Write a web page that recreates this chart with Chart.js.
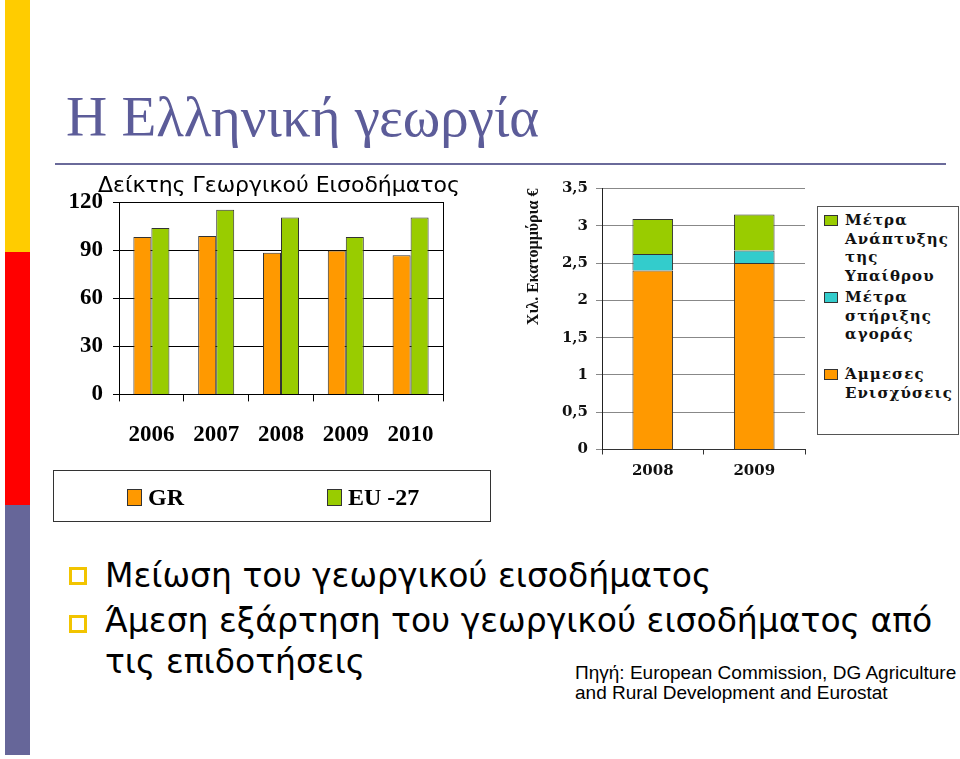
<!DOCTYPE html>
<html>
<head>
<meta charset="utf-8">
<script src="https://cdn.jsdelivr.net/npm/chart.js@4.4.0/dist/chart.umd.min.js"></script>
<style>
body { margin:0; width:960px; height:759px; background:#fff; position:relative; overflow:hidden; font-family:"Liberation Sans", sans-serif; }
.abs { position:absolute; }
.strip { left:5px; width:25px; }
#title { left:66px; top:84px; font-family:"Liberation Serif", serif; font-size:57px; line-height:65px; color:#5c5c99; white-space:nowrap; }
#rule { left:55px; top:163px; width:891px; height:2px; background:#6a6a9a; }
#indexChart { left:63px; top:168px; }
#subsidyChart { left:515px; top:170px; }
#indexLegend { left:53px; top:470px; width:436px; height:50px; border:1.5px solid #333; }
.legItem { position:absolute; top:14px; font-family:"Liberation Serif", serif; font-weight:bold; font-size:24px; line-height:24px; color:#000; white-space:nowrap; }
.legItem i { display:inline-block; width:13px; height:15px; border:1px solid #333; margin-right:6px; vertical-align:-1px; }
#subsidyLegend { left:817px; top:206px; width:140px; height:227px; border:1.5px solid #555; }
.subItem { position:absolute; left:6px; font-family:"DejaVu Serif", serif; font-weight:bold; font-size:15px; line-height:18.5px; letter-spacing:1.1px; color:#111; }
.subItem i { position:absolute; left:0; top:4px; width:12px; height:9px; border:1px solid #333; }
.subItem span { display:block; margin-left:21px; }
.bullet { left:69px; width:12px; height:12px; border:3px solid #f2c400; }
.btext { left:105px; font-family:"DejaVu Sans", sans-serif; font-size:33px; line-height:40px; color:#000; white-space:nowrap; }
.src { left:575px; font-family:"Liberation Sans", sans-serif; font-size:19px; line-height:20px; color:#000; white-space:nowrap; }
</style>
</head>
<body>
<div class="abs strip" style="top:0;height:252px;background:#ffcc00"></div>
<div class="abs strip" style="top:252px;height:253px;background:#ff0000"></div>
<div class="abs strip" style="top:505px;height:250px;background:#666699"></div>

<div id="title" class="abs">Η Ελληνική γεωργία</div>
<div id="rule" class="abs"></div>

<canvas id="indexChart" class="abs" width="432" height="311"></canvas>
<div id="indexLegend" class="abs"></div>

<canvas id="subsidyChart" class="abs" width="300" height="329"></canvas>
<div id="subsidyLegend" class="abs"></div>

<div class="abs bullet" style="top:567px"></div>
<div class="abs bullet" style="top:615px"></div>
<div class="abs btext" style="top:556px">Μείωση του γεωργικού εισοδήματος</div>
<div class="abs btext" style="top:601px">Άμεση εξάρτηση του γεωργικού εισοδήματος από</div>
<div class="abs btext" style="top:642px">τις επιδοτήσεις</div>
<div class="abs src" style="top:663px">Πηγή: European Commission, DG Agriculture</div>
<div class="abs src" style="top:683px">and Rural Development and Eurostat</div>

<script>
// Δείκτης γεωργικού εισοδήματος
const years = ['2006', '2007', '2008', '2009', '2010'];
const grValues = [98.4, 99.0, 88.5, 90.0, 87.0];
const euValues = [104.0, 115.4, 110.5, 98.4, 110.5];
const indexTickLabels = ['0', '30', '60', '90', '120'];
const indexSeries = ['GR', 'EU -27'];

// Ενισχύσεις σε χιλ. εκατ. €
const subsidyYears = ['2008', '2009'];
const directPayments = [2.40, 2.50];
const marketSupport = [0.22, 0.17];
const ruralDevelopment = [0.47, 0.48];
const subsidyTickLabels = ['0', '0,5', '1', '1,5', '2', '2,5', '3', '3,5'];
const subsidySeries = ['Άμμεσες Ενισχύσεις', 'Μέτρα στήριξης αγοράς', 'Μέτρα Ανάπτυξης της Υπαίθρου'];

const ORANGE = '#ff9900';
const GREEN = '#99cc00';
const CYAN = '#33cccc';

function renderIndexChart() {
    const ctx = document.getElementById('indexChart').getContext('2d');
    const colors = [ORANGE, GREEN];

    new Chart(ctx, {
        type: 'bar',
        data: {
            labels: years,
            datasets: [grValues, euValues].map((values, i) => ({
                label: indexSeries[i],
                data: values,
                backgroundColor: colors[i],
                borderColor: '#333',
                borderWidth: 1,
                categoryPercentage: 0.556,
                barPercentage: 1
            }))
        },
        options: {
            responsive: false,
            animation: false,
            layout: { padding: { left: 0, right: 0, top: 0, bottom: 10 } },
            plugins: {
                legend: { display: false },
                tooltip: { enabled: false },
                title: {
                    display: true,
                    text: 'Δείκτης Γεωργικού Εισοδήματος',
                    color: '#000',
                    font: { family: 'DejaVu Sans', size: 22, weight: 'normal' },
                    padding: { top: 5, bottom: 3 }
                }
            },
            scales: {
                x: {
                    grid: { drawOnChartArea: false, tickLength: 7, color: '#000' },
                    border: { color: '#000' },
                    ticks: { color: '#000', padding: 20, font: { family: 'Liberation Serif', size: 23, weight: 'bold' } }
                },
                y: {
                    min: 0,
                    max: 120,
                    grid: { color: '#000', tickLength: 6 },
                    border: { color: '#000' },
                    ticks: {
                        stepSize: 30,
                        color: '#000',
                        padding: 10,
                        font: { family: 'Liberation Serif', size: 23, weight: 'bold' },
                        callback: (v, i) => indexTickLabels[i]
                    },
                    afterFit: s => { s.width = 56; }
                },
                // δεξί περίγραμμα του γραφήματος
                y2: {
                    position: 'right',
                    grid: { display: false },
                    ticks: { display: false },
                    border: { display: true, color: '#000' },
                    afterFit: s => { s.width = 52; }
                }
            }
        }
    });

    const legend = document.getElementById('indexLegend');
    const spots = [73, 273];
    indexSeries.forEach((name, i) => {
        const item = document.createElement('div');
        item.className = 'legItem';
        item.style.left = spots[i] + 'px';
        item.innerHTML = `<i style="background:${colors[i]}"></i>${name}`;
        legend.appendChild(item);
    });
}

function renderSubsidyChart() {
    const ctx = document.getElementById('subsidyChart').getContext('2d');
    const colors = [ORANGE, CYAN, GREEN];

    new Chart(ctx, {
        type: 'bar',
        data: {
            labels: subsidyYears,
            datasets: [directPayments, marketSupport, ruralDevelopment].map((values, i) => ({
                label: subsidySeries[i],
                data: values,
                backgroundColor: colors[i],
                borderColor: '#333',
                borderWidth: 1,
                categoryPercentage: 0.4,
                barPercentage: 1
            }))
        },
        options: {
            responsive: false,
            animation: false,
            layout: { padding: { left: 0, right: 10, top: 18.5, bottom: 10.5 } },
            plugins: {
                legend: { display: false },
                tooltip: { enabled: false }
            },
            scales: {
                x: {
                    stacked: true,
                    grid: { drawOnChartArea: false, tickLength: 5, color: '#333' },
                    border: { color: '#333' },
                    ticks: { color: '#111', padding: 8, font: { family: 'DejaVu Serif', size: 15, weight: 'bold' } }
                },
                y: {
                    stacked: true,
                    min: 0,
                    max: 3.5,
                    grid: { color: '#888', tickLength: 6 },
                    border: { color: '#222' },
                    ticks: {
                        stepSize: 0.5,
                        color: '#111',
                        padding: 8,
                        font: { family: 'DejaVu Serif', size: 15, weight: 'bold' },
                        callback: (v, i) => subsidyTickLabels[i]
                    },
                    title: {
                        display: true,
                        text: 'Χιλ. Εκατομμύρια €',
                        align: 'end',
                        color: '#111',
                        font: { family: 'Liberation Serif', size: 16, weight: 'bold' },
                        padding: { top: 9, bottom: 0 }
                    },
                    afterFit: s => { s.width = 87; }
                }
            }
        }
    });

    // legenda: η πάνω σειρά πρώτη
    const legend = document.getElementById('subsidyLegend');
    for (let i = subsidySeries.length - 1, n = 0; i >= 0; i--, n++) {
        const item = document.createElement('div');
        item.className = 'subItem';
        item.style.top = (4 + n * 77) + 'px';
        item.innerHTML = `<i style="background:${colors[i]}"></i><span>${subsidySeries[i].split(' ').join('<br>')}</span>`;
        legend.appendChild(item);
    }
}

renderIndexChart();
renderSubsidyChart();
</script>
</body>
</html>
